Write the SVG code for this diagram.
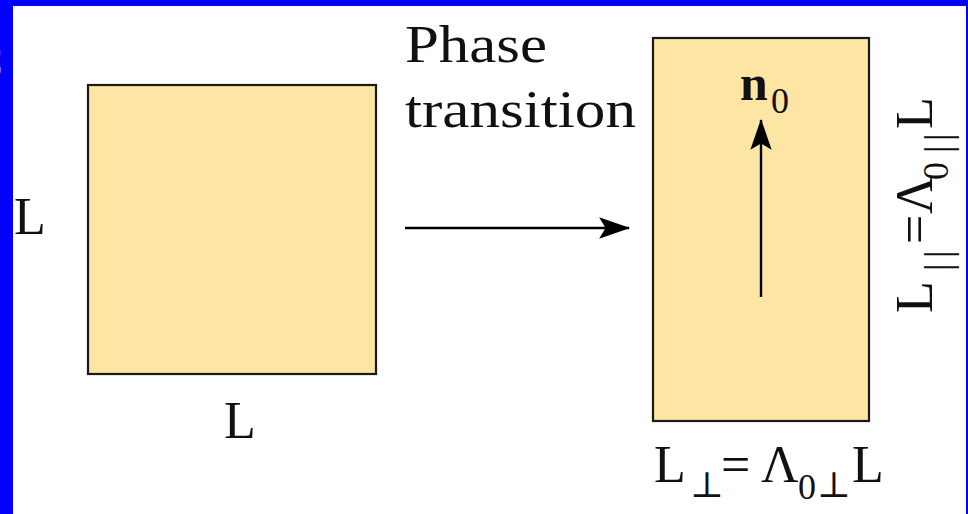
<svg xmlns="http://www.w3.org/2000/svg" width="968" height="514" viewBox="0 0 968 514">
  <style>
    .box { fill: #FDE5A4; stroke: #1a1a1a; stroke-width: 2.2; }
    .lbl { font-family: "Liberation Serif", "DejaVu Serif", serif; fill: #111; }
    .big { font-size: 52px; }
    .sub { font-size: 36px; }
    .bar { font-size: 38px; }
    .conn { stroke: #000; stroke-width: 2.4; fill: none; }
  </style>
  <defs>
    <marker id="head" markerUnits="userSpaceOnUse" markerWidth="32" markerHeight="24" viewBox="-28 -11 30 22" refX="0" refY="0" orient="auto">
      <path d="M1,0 L-28,-10 L-22,0 L-28,10 Z" fill="#000"/>
    </marker>
  </defs>

  <!-- frame -->
  <rect x="0" y="0" width="968" height="514" fill="#fff"/>
  <rect x="0" y="0" width="968" height="6" fill="#0000FF"/>
  <rect x="0" y="0" width="13" height="514" fill="#0000FF"/>
  <rect x="966" y="0" width="2" height="514" fill="#0000FF"/>
  <text x="-23" y="74" font-family="Liberation Serif, serif" font-size="38" fill="#fff">C</text>

  <!-- initial square domain -->
  <g id="square">
    <rect class="box" x="88" y="85" width="288" height="289"/>
    <text class="lbl big" x="14" y="234">L</text>
    <text class="lbl big" x="224" y="438">L</text>
  </g>

  <!-- transition label -->
  <g id="transition">
    <text class="lbl big" x="405" y="62" textLength="142" lengthAdjust="spacingAndGlyphs">Phase</text>
    <text class="lbl big" x="405" y="127" textLength="231" lengthAdjust="spacingAndGlyphs">transition</text>
  </g>

  <!-- stretched domain -->
  <g id="rectangle">
    <rect class="box" x="653" y="38" width="216" height="383"/>
    <text class="lbl" x="740" y="100"><tspan font-weight="bold" font-size="50">n</tspan><tspan class="sub" x="771" y="113">0</tspan></text>
    <text class="lbl" y="482">
      <tspan class="big" x="654">L</tspan><tspan class="sub" x="690" y="497">⊥</tspan><tspan class="big" x="721" y="482">=</tspan><tspan class="big" x="761">Λ</tspan><tspan class="sub" x="798" y="499">0</tspan><tspan class="sub" x="817" y="497">⊥</tspan><tspan class="big" x="852" y="482">L</tspan>
    </text>
    <g transform="translate(932,313) rotate(-90)">
      <text class="lbl" y="0">
        <tspan class="big" x="0">L</tspan><tspan class="bar" x="42" y="19">|</tspan><tspan class="bar" x="55" y="19">|</tspan><tspan class="big" x="69" y="0">=</tspan><tspan class="big" x="99">Λ</tspan><tspan class="sub" x="133" y="16">0</tspan><tspan class="bar" x="160" y="19">|</tspan><tspan class="bar" x="172" y="19">|</tspan><tspan class="big" x="184" y="0">L</tspan>
      </text>
    </g>
  </g>

  <!-- connectors -->
  <g id="connectors">
    <line class="conn" x1="405" y1="228" x2="629" y2="228" marker-end="url(#head)"/>
    <line class="conn" x1="761" y1="297" x2="761" y2="120" marker-end="url(#head)"/>
  </g>
</svg>
